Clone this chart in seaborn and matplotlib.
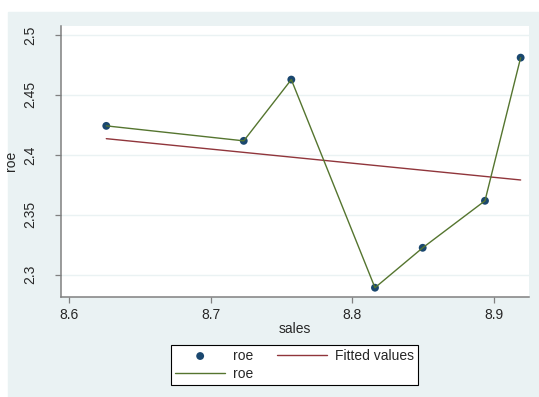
import pandas as pd
import matplotlib.pyplot as plt
import seaborn as sns
from matplotlib.patches import Rectangle

sns.set_style("white")
plt.rcParams['font.family'] = ['Liberation Sans', 'DejaVu Sans']

# values
sales = [8.6261, 8.7232, 8.7568, 8.8159, 8.8496, 8.8936, 8.9188]
roe = [2.4242, 2.4117, 2.4628, 2.2892, 2.3225, 2.3617, 2.4811]
x_ticks = [8.6, 8.7, 8.8, 8.9]
y_ticks = [2.3, 2.35, 2.4, 2.45, 2.5]
y_tick_labels = ["2.3", "2.35", "2.4", "2.45", "2.5"]

df = pd.DataFrame({"sales": sales, "roe": roe})

W, H = 539, 397
fig = plt.figure(figsize=(W / 100, H / 100), dpi=100)
fig.patch.set_facecolor("white")
fig.patches.append(Rectangle((8 / W, 0), 1 - 8 / W, (H - 12) / H,
                             transform=fig.transFigure, color="#eaf2f3", zorder=-10))

ax = fig.add_axes([60.7 / W, 1 - 296.7 / H, (529 - 60.7) / W, (296.7 - 26) / H])
ax.set_zorder(1)
ax.set_facecolor("white")

for yt in y_ticks:
    ax.axhline(yt, color="#eaf2f3", lw=1.0, zorder=0)

sc = sns.scatterplot(data=df, x="sales", y="roe", ax=ax, color="#1a476f",
                     s=32, edgecolor="none", zorder=3, label="roe")
sns.regplot(data=df, x="sales", y="roe", ax=ax, scatter=False, ci=None,
            color="#90353b", line_kws={"lw": 1.0, "zorder": 4})
sns.lineplot(data=df, x="sales", y="roe", ax=ax, sort=False, estimator=None,
             color="#55752f", lw=1.0, zorder=5)

ax.set_xlim(8.5939, 8.9247)
ax.set_ylim(2.2817, 2.5075)
ax.set_xticks(x_ticks)
ax.set_xticklabels([str(v) for v in x_ticks])
ax.set_yticks(y_ticks)
ax.set_yticklabels(y_tick_labels, rotation=90, va="center")

for side in ["top", "right"]:
    ax.spines[side].set_visible(False)
for side in ["left", "bottom"]:
    ax.spines[side].set_color("#808080")
    ax.spines[side].set_linewidth(1.1)

ax.tick_params(axis="y", length=4, width=0.9, color="#808080", pad=13, labelsize=10,
               left=True)
ax.tick_params(axis="x", length=4, width=0.9, color="#808080", pad=4, labelsize=10,
               bottom=True)

ax.set_xlabel("sales", fontsize=10, labelpad=0)
ax.set_ylabel("roe", fontsize=10)
ax.yaxis.set_label_coords((18.3 - 60.7) / (529 - 60.7), 0.5)

lines = ax.get_lines()
fit_line = [l for l in lines if l.get_color() == "#90353b"][0]
roe_line = lines[-1]
handles = [sc.collections[0], roe_line, fit_line]
labels = ["roe", "roe", "Fitted values"]
if ax.get_legend() is not None:
    ax.get_legend().remove()

leg = fig.legend(handles, labels, ncol=2, mode="expand", loc="lower left",
                 bbox_to_anchor=(171 / W, 1 - 385 / H, (418 - 171) / W, (385 - 340.7) / H),
                 borderaxespad=0, fontsize=10, frameon=True, fancybox=False,
                 framealpha=1, edgecolor="black", handlelength=3.6,
                 handletextpad=0.6, labelspacing=0.3, borderpad=0.3,
                 scatterpoints=1)
leg.get_frame().set_linewidth(0.8)

fig.savefig("out.png", dpi=100)
